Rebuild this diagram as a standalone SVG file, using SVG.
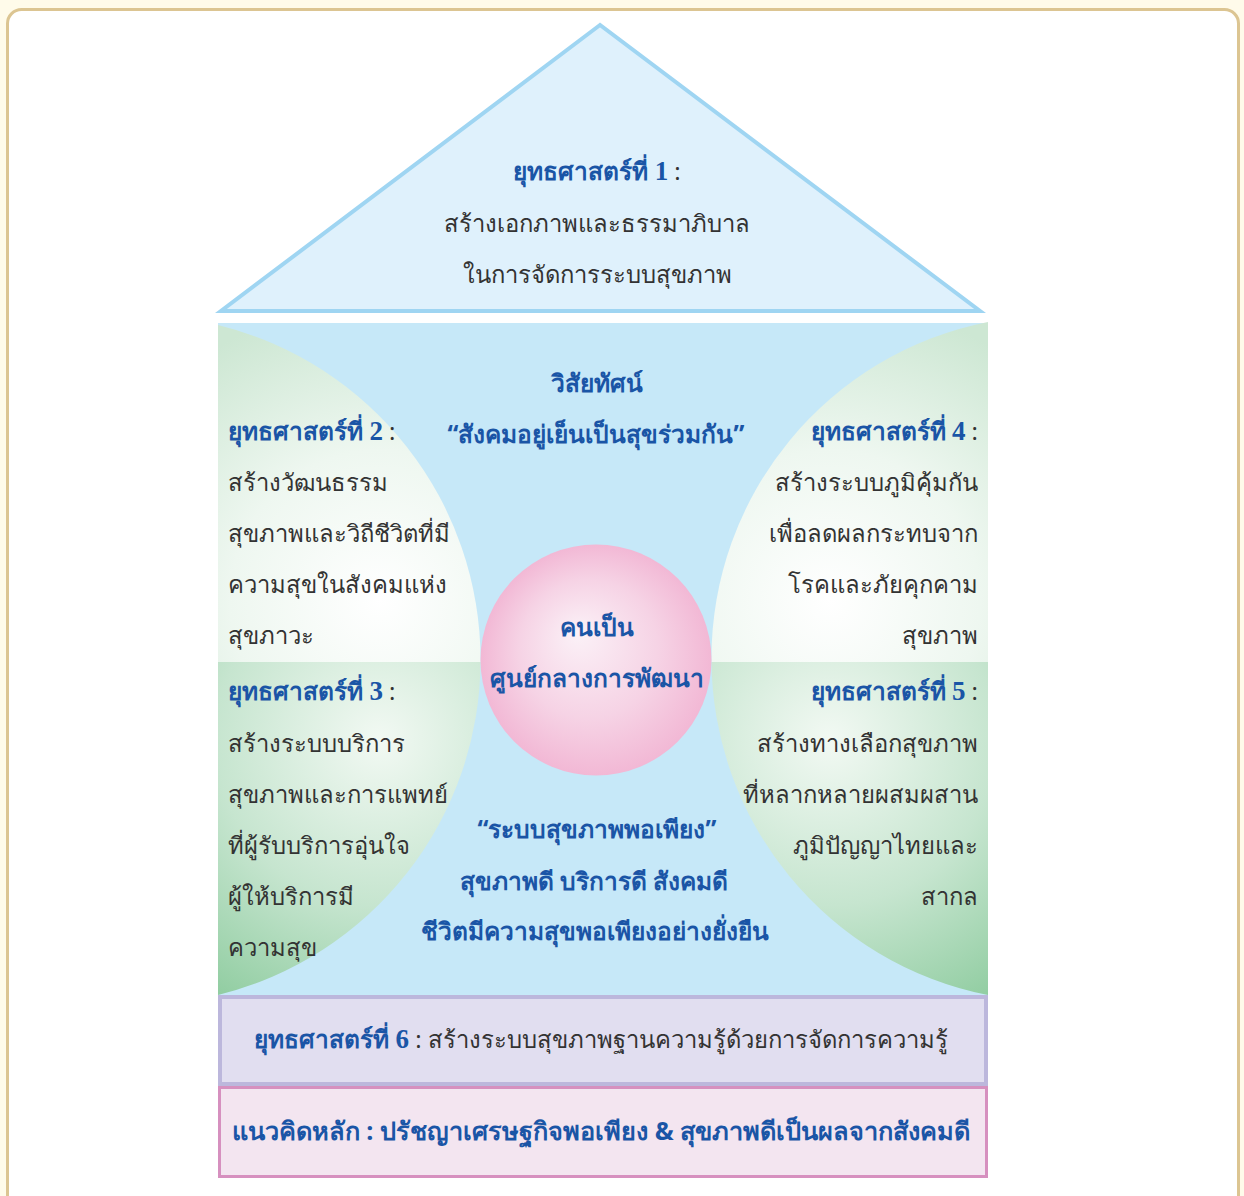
<svg xmlns="http://www.w3.org/2000/svg" width="1244" height="1196" viewBox="0 0 1244 1196">
<defs>
<style>
.h{font-family:"Noto Sans","DejaVu Sans",sans-serif;font-weight:bold;fill:#1a55a6;font-size:24.5px}
.t{font-family:"Noto Sans","DejaVu Sans",sans-serif;fill:#333333;font-size:23.8px}
.n{font-family:"Liberation Serif",serif;font-weight:bold;fill:#1a55a6;font-size:27px}
.c{text-anchor:middle}
.r{text-anchor:end}
</style>
<radialGradient id="gTop" cx="380" cy="600" r="300" gradientUnits="userSpaceOnUse">
<stop offset="0" stop-color="#ffffff"/>
<stop offset="0.5" stop-color="#eef7f0"/>
<stop offset="1" stop-color="#cde7d3"/>
</radialGradient>
<radialGradient id="gBot" cx="380" cy="740" r="330" gradientUnits="userSpaceOnUse">
<stop offset="0" stop-color="#f2f9f3"/>
<stop offset="0.5" stop-color="#c6e5cf"/>
<stop offset="1" stop-color="#86c898"/>
</radialGradient>
<radialGradient id="gTopR" cx="830" cy="600" r="300" gradientUnits="userSpaceOnUse">
<stop offset="0" stop-color="#ffffff"/>
<stop offset="0.5" stop-color="#eef7f0"/>
<stop offset="1" stop-color="#cde7d3"/>
</radialGradient>
<radialGradient id="gBotR" cx="830" cy="740" r="330" gradientUnits="userSpaceOnUse">
<stop offset="0" stop-color="#f2f9f3"/>
<stop offset="0.5" stop-color="#c6e5cf"/>
<stop offset="1" stop-color="#86c898"/>
</radialGradient>
<radialGradient id="gPink" cx="0.5" cy="0.5" r="0.5" fx="0.42" fy="0.38">
<stop offset="0" stop-color="#fbf1f7"/>
<stop offset="0.6" stop-color="#f6d3e5"/>
<stop offset="1" stop-color="#f2b8d5"/>
</radialGradient>
<clipPath id="cTop"><rect x="200" y="300" width="820" height="362"/></clipPath>
<clipPath id="cBot"><rect x="200" y="662" width="820" height="340"/></clipPath>
</defs>
<rect x="0" y="0" width="1244" height="1196" fill="#fffbea"/>
<rect x="7.5" y="9.5" width="1231" height="1210" rx="14" fill="#ffffff" stroke="#dcc592" stroke-width="3"/>

<g id="roof">
<polygon points="600,25 221,311 980,311" fill="#dff1fc" stroke="#9fd5f2" stroke-width="4" stroke-linejoin="miter"/>
<text class="c" x="597" y="180"><tspan class="h">ยุทธศาสตร์ที่ </tspan><tspan class="n">1</tspan><tspan class="t"> :</tspan></text>
<text class="t c" x="597" y="232">สร้างเอกภาพและธรรมาภิบาล</text>
<text class="t c" x="597" y="283">ในการจัดการระบบสุขภาพ</text>
</g>

<g id="body">
<rect x="218" y="323" width="770" height="672" fill="#c6e8f8"/>
</g>

<g id="left-shape">
<path d="M218,325 A345,345 0 0 1 218,995 Z" fill="url(#gTop)" clip-path="url(#cTop)"/>
<path d="M218,325 A345,345 0 0 1 218,995 Z" fill="url(#gBot)" clip-path="url(#cBot)"/>
</g>
<g id="right-shape">
<path d="M988,322 A343,343 0 0 0 988,995 Z" fill="url(#gTopR)" clip-path="url(#cTop)"/>
<path d="M988,322 A343,343 0 0 0 988,995 Z" fill="url(#gBotR)" clip-path="url(#cBot)"/>
</g>

<g id="vision">
<text class="h c" x="597" y="392">วิสัยทัศน์</text>
<text class="h c" x="596" y="443">“สังคมอยู่เย็นเป็นสุขร่วมกัน”</text>
</g>

<g id="strategy2">
<text x="228" y="440"><tspan class="h">ยุทธศาสตร์ที่ </tspan><tspan class="n">2</tspan><tspan class="t"> :</tspan></text>
<text class="t" x="228" y="491">สร้างวัฒนธรรม</text>
<text class="t" x="228" y="542">สุขภาพและวิถีชีวิตที่มี</text>
<text class="t" x="228" y="593">ความสุขในสังคมแห่ง</text>
<text class="t" x="228" y="644">สุขภาวะ</text>
</g>

<g id="strategy3">
<text x="228" y="700"><tspan class="h">ยุทธศาสตร์ที่ </tspan><tspan class="n">3</tspan><tspan class="t"> :</tspan></text>
<text class="t" x="228" y="752">สร้างระบบบริการ</text>
<text class="t" x="228" y="803">สุขภาพและการแพทย์</text>
<text class="t" x="228" y="854">ที่ผู้รับบริการอุ่นใจ</text>
<text class="t" x="228" y="905">ผู้ให้บริการมี</text>
<text class="t" x="228" y="956">ความสุข</text>
</g>

<g id="strategy4">
<text class="r" x="978" y="440"><tspan class="h">ยุทธศาสตร์ที่ </tspan><tspan class="n">4</tspan><tspan class="t"> :</tspan></text>
<text class="t r" x="978" y="491">สร้างระบบภูมิคุ้มกัน</text>
<text class="t r" x="978" y="542">เพื่อลดผลกระทบจาก</text>
<text class="t r" x="978" y="593">โรคและภัยคุกคาม</text>
<text class="t r" x="978" y="644">สุขภาพ</text>
</g>

<g id="strategy5">
<text class="r" x="978" y="700"><tspan class="h">ยุทธศาสตร์ที่ </tspan><tspan class="n">5</tspan><tspan class="t"> :</tspan></text>
<text class="t r" x="978" y="752">สร้างทางเลือกสุขภาพ</text>
<text class="t r" x="978" y="803">ที่หลากหลายผสมผสาน</text>
<text class="t r" x="978" y="854">ภูมิปัญญาไทยและ</text>
<text class="t r" x="978" y="905">สากล</text>
</g>

<g id="center">
<circle cx="596" cy="660" r="115.5" fill="url(#gPink)"/>
<text class="h c" x="597" y="636">คนเป็น</text>
<text class="h c" x="597" y="687">ศูนย์กลางการพัฒนา</text>
</g>

<g id="sufficiency">
<text class="h c" x="597" y="838">“ระบบสุขภาพพอเพียง”</text>
<text class="h c" x="594" y="890">สุขภาพดี บริการดี สังคมดี</text>
<text class="h c" x="595" y="940">ชีวิตมีความสุขพอเพียงอย่างยั่งยืน</text>
</g>

<g id="strategy6">
<rect x="220" y="997" width="766" height="87" fill="#e1def0" stroke="#bcb7dc" stroke-width="4"/>
<text class="c" x="601" y="1048"><tspan class="h">ยุทธศาสตร์ที่ </tspan><tspan class="n">6</tspan><tspan class="t"> : สร้างระบบสุขภาพฐานความรู้ด้วยการจัดการความรู้</tspan></text>
</g>

<g id="core">
<rect x="219.5" y="1087.5" width="767" height="89" fill="#f3e5f0" stroke="#d690bf" stroke-width="3"/>
<text class="h c" x="601" y="1140" style="font-size:25.3px">แนวคิดหลัก : ปรัชญาเศรษฐกิจพอเพียง &amp; สุขภาพดีเป็นผลจากสังคมดี</text>
</g>

<g id="connectors"></g>
</svg>
